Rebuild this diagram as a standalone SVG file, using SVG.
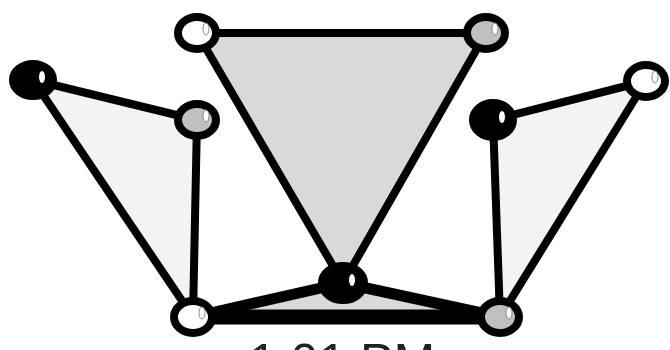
<svg xmlns="http://www.w3.org/2000/svg" width="670" height="350" viewBox="0 0 670 350">
<style>
.e{stroke:#000;stroke-width:8;stroke-linecap:round;fill:none}
.t{stroke:none}
.n{stroke:#000;stroke-width:8}
.w{fill:#fff}.g{fill:#c0c0c0}.b{fill:#000}
.h{fill:#fff;stroke:#888;stroke-width:1}
.hb{fill:#fff;stroke:none}
.lbl{font-family:"Liberation Sans",Arial,sans-serif;font-size:50px;fill:#222}
</style>
<defs>
<g id="hl"><ellipse cx="9" cy="-4" rx="3" ry="6" class="h"/></g>
<g id="hlb"><ellipse cx="9" cy="-3" rx="3" ry="6" class="hb"/></g>
</defs>
<g id="faces">
<polygon class="t" points="197,33 486,33 343,283" fill="#d9d9d9"/>
<polygon class="t" points="33,80 197,120 193,317" fill="#f2f3f5"/>
<polygon class="t" points="493,120 646,81 500,317" fill="#f2f3f5"/>
<polygon class="t" points="193,317 343,283 500,317" fill="#d9d9d9"/>
</g>
<g id="connectors">
<line class="e" x1="197" y1="33" x2="486" y2="33"/>
<line class="e" x1="197" y1="33" x2="343" y2="283"/>
<line class="e" x1="486" y1="33" x2="343" y2="283"/>
<line class="e" x1="33" y1="80" x2="197" y2="120"/>
<line class="e" x1="33" y1="80" x2="193" y2="317"/>
<line class="e" x1="197" y1="120" x2="193" y2="317"/>
<line class="e" x1="493" y1="120" x2="646" y2="81"/>
<line class="e" x1="646" y1="81" x2="500" y2="317"/>
<line class="e" x1="493" y1="120" x2="500" y2="317"/>
<line class="e" x1="193" y1="317" x2="343" y2="283" style="stroke-width:11"/>
<line class="e" x1="343" y1="283" x2="500" y2="317" style="stroke-width:11"/>
<line class="e" x1="193" y1="317" x2="500" y2="317" style="stroke-width:15"/>
</g>
<g id="n_tl"><ellipse cx="197" cy="33" rx="19" ry="16" class="n w"/><use href="#hl" x="197" y="33"/></g>
<g id="n_tr"><ellipse cx="486" cy="33" rx="19" ry="16" class="n g"/><use href="#hl" x="486" y="33"/></g>
<g id="n_lb"><ellipse cx="33" cy="80" rx="20" ry="16" class="n b"/><use href="#hlb" x="33" y="80"/></g>
<g id="n_lg"><ellipse cx="197" cy="120" rx="19" ry="16" class="n g"/><use href="#hl" x="197" y="120"/></g>
<g id="n_rb"><ellipse cx="493" cy="120" rx="20" ry="17" class="n b"/><use href="#hlb" x="493" y="120"/></g>
<g id="n_rw"><ellipse cx="646" cy="81" rx="19" ry="16" class="n w"/><use href="#hl" x="646" y="81"/></g>
<g id="n_bl"><ellipse cx="193" cy="317" rx="19" ry="16" class="n w"/><use href="#hl" x="193" y="317"/></g>
<g id="n_br"><ellipse cx="500" cy="317" rx="19" ry="16" class="n g"/><use href="#hl" x="500" y="317"/></g>
<g id="n_c"><ellipse cx="343" cy="283" rx="21" ry="17" class="n b"/><use href="#hlb" x="343" y="283"/></g>
<text class="lbl" x="342" y="379" text-anchor="middle">1:01 PM</text>
</svg>
